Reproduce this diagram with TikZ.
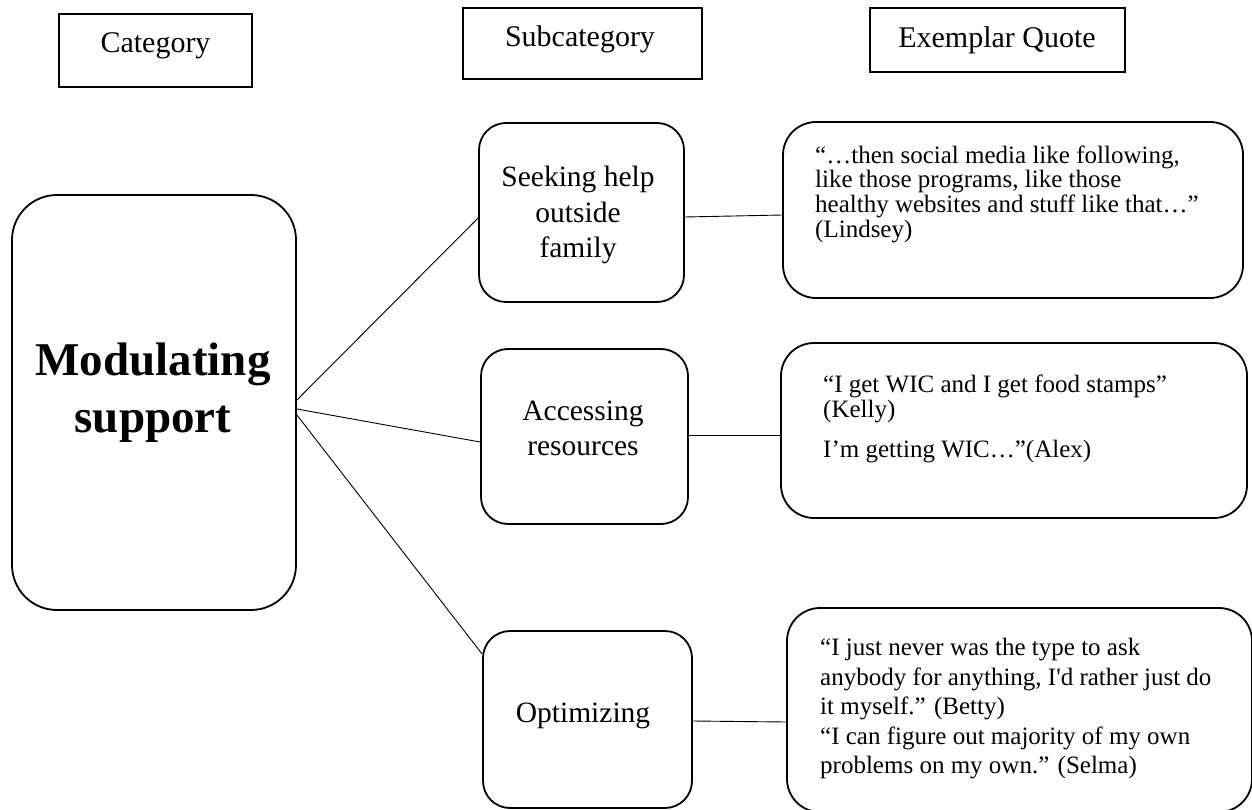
\documentclass[tikz,border=0pt]{standalone}
\usepackage{fontspec}
\setmainfont{Liberation Serif}
\begin{document}
\begin{tikzpicture}[x=1pt,y=-1pt,
  frame/.style={draw, line width=1.8pt, inner sep=0pt},
  headbox/.style={frame},
  subbox/.style={frame, rounded corners=27pt},
  quotebox/.style={frame, rounded corners=33pt},
  mainbox/.style={frame, rounded corners=45pt},
  headtxt/.style={font=\fontsize{30}{36}\selectfont, inner sep=0pt},
  subtxt/.style={font=\fontsize{29.5}{35.5}\selectfont, align=center, inner sep=0pt},
  quotetxt/.style={font=\fontsize{25}{#1}\selectfont, align=left, inner sep=0pt, anchor=west},
  quotetxt/.default=29.5,
  maintxt/.style={font=\fontsize{47}{57}\selectfont\bfseries, align=center, inner sep=0pt},
  link/.style={line width=0.9pt}]
\useasboundingbox (0,0) rectangle (1252,810);
\clip (0,0) rectangle (1252,810);

% column headers
\node[headbox, minimum width=193pt, minimum height=73pt] (cat) at (155.5,50.5) {};
\node[headtxt] (catlbl) at (155.5,45.5) {Category};
\node[headbox, minimum width=239pt, minimum height=71pt] (sub) at (582.5,43.5) {};
\node[headtxt] (sublbl) at (580,39) {Subcategory};
\node[headbox, minimum width=255pt, minimum height=64pt] (ex) at (997.5,40) {};
\node[headtxt] (exlbl) at (997,40.5) {Exemplar Quote};

% category
\node[mainbox, minimum width=284pt, minimum height=415pt] (main) at (154,402.5) {};
\node[maintxt] (mainlbl) at (153,392.5) {Modulating\\support};

% subcategories
\node[subbox, minimum width=205pt, minimum height=179pt] (seek) at (581.5,212.5) {};
\node[subtxt] (seeklbl) at (578,215) {Seeking help\\outside\\family};
\node[subbox, minimum width=207pt, minimum height=175pt] (access) at (584.5,436.5) {};
\node[subtxt] (accesslbl) at (583,428.5) {Accessing\\resources};
\node[subbox, minimum width=209pt, minimum height=177pt] (opt) at (587.5,719.5) {};
\node[subtxt] (optlbl) at (583,715.5) {Optimizing};

% exemplar quotes
\node[quotebox, minimum width=460pt, minimum height=176pt] (q1) at (1013,210) {};
\node[quotetxt=24.7] (q1lbl) at (815,194) {“…then social media like following,\\like those programs, like those\\healthy websites and stuff like that…”\\(Lindsey)};
\node[quotebox, minimum width=466pt, minimum height=175pt] (q2) at (1014,430.5) {};
\node[quotetxt=24.5] (q2lbl) at (823,419) {“I get WIC and I get food stamps”\\(Kelly)\\[15.5pt]I’m getting WIC…”(Alex)};
\node[quotebox, minimum width=465pt, minimum height=204pt] (q3) at (1019.5,710) {};
\node[quotetxt] (q3lbl) at (820,709) {“I just never was the type to ask\\anybody for anything, I\textquotesingle d rather just do\\it myself.” (Betty)\\“I can figure out majority of my own\\problems on my own.” (Selma)};

% connectors
\draw[link] ([yshift=2.5pt]main.east) -- ([yshift=-5.5pt]seek.west);
\draw[link] ([yshift=-6.5pt]main.east) -- ([yshift=-5.5pt]access.west);
\draw[link] ([yshift=-12.5pt]main.east) -- ([yshift=65.5pt]opt.west);
\draw[link] ([yshift=-4.5pt]seek.east) -- ([yshift=-5pt]q1.west);
\draw[link] ([yshift=1.5pt]access.east) -- ([yshift=-4.5pt]q2.west);
\draw[link] ([yshift=-1.5pt]opt.east) -- ([yshift=-12pt]q3.west);
\end{tikzpicture}
\end{document}
